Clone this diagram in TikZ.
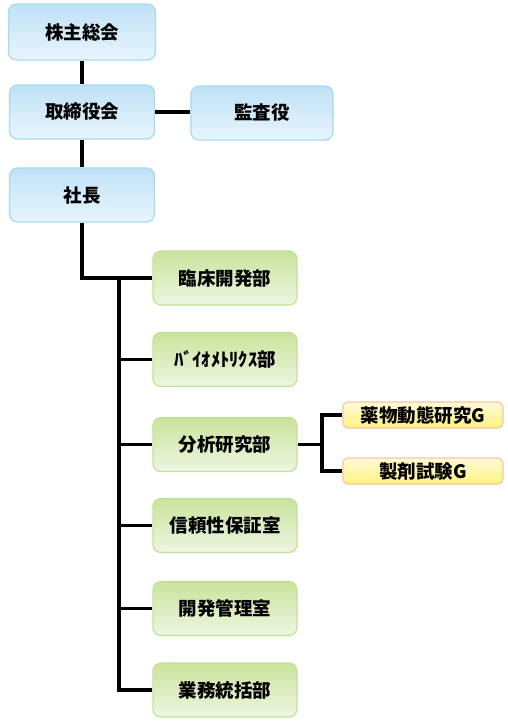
\documentclass[tikz,border=0pt]{standalone}
\usepackage{fontspec}
\newfontfamily\jpfont{Noto Sans CJK JP}
\usepackage{tikz}
\usetikzlibrary{positioning,calc}

\definecolor{bluetop}{HTML}{BFE2F6}
\definecolor{bluebot}{HTML}{E8F5FC}
\definecolor{blueline}{HTML}{A6D9F3}
\definecolor{greentop}{HTML}{C9E39C}
\definecolor{greenbot}{HTML}{EEF6E2}
\definecolor{greenline}{HTML}{C3E196}
\definecolor{yellowtop}{HTML}{FFFBDA}
\definecolor{yellowbot}{HTML}{FFF27E}
\definecolor{yellowline}{HTML}{F8C69C}

\tikzset{
  orgbox/.style={rectangle,rounded corners=8pt,line width=1.2pt,
    font=\jpfont\bfseries\fontsize{18.5}{22}\selectfont,inner sep=0pt},
  topbox/.style={orgbox,draw=blueline,top color=bluetop,bottom color=bluebot,
    minimum width=145pt,minimum height=54pt},
  deptbox/.style={orgbox,draw=greenline,top color=greentop,bottom color=greenbot,
    minimum width=144pt,minimum height=54pt},
  groupbox/.style={orgbox,rounded corners=5pt,draw=yellowline,top color=yellowtop,
    bottom color=yellowbot,minimum width=160pt,minimum height=26pt},
  link/.style={line width=3.5pt,black}
}

\begin{document}
\begin{tikzpicture}[x=1pt,y=1pt]
  \useasboundingbox (0,0) rectangle (508,-723);
  % board and officers
  \node[topbox,minimum width=147pt,minimum height=56pt] (kabu) at (82,-32) {株主総会};
  \node[topbox] (tori) at (82,-112) {取締役会};
  \node[topbox,minimum width=142pt] (kansa) at (262,-113) {監査役};
  \node[topbox] (shacho) at (82,-195) {社長};
  % departments
  \node[deptbox] (rinsho) at (225,-278) {臨床開発部};
  \node[deptbox] (bio) at (225,-359.5) {ﾊﾞｲｵﾒﾄﾘｸｽ部};
  \node[deptbox] (bunseki) at (225,-444.5) {分析研究部};
  \node[deptbox] (shinrai) at (225,-525.5) {信頼性保証室};
  \node[deptbox] (kaihatsu) at (225,-608.5) {開発管理室};
  \node[deptbox] (gyomu) at (225,-690) {業務統括部};
  % groups
  \node[groupbox] (yakubutsu) at (423,-415) {薬物動態研究G};
  \node[groupbox] (seizai) at (423,-471) {製剤試験G};
  \coordinate (trunk) at (119,0);
  \coordinate (fork) at (322,0);
  \draw[link] (kabu.south) -- (tori.north);
  \draw[link] (tori.east) -- (kansa.west |- tori.east);
  \draw[link] (tori.south) -- (shacho.north);
  \draw[link] (shacho.south) -- (shacho.south |- rinsho.west) -- (rinsho.west);
  \draw[link] (trunk |- rinsho.west) -- (trunk |- gyomu.west) -- (gyomu.west);
  \foreach \d in {bio,bunseki,shinrai,kaihatsu}
    \draw[link] (trunk |- \d.west) -- (\d.west);
  \draw[link] (bunseki.east) -- (fork |- bunseki.east);
  \draw[link] (yakubutsu.west) -- (fork |- yakubutsu.west) --
    (fork |- seizai.west) -- (seizai.west);
\end{tikzpicture}
\end{document}
